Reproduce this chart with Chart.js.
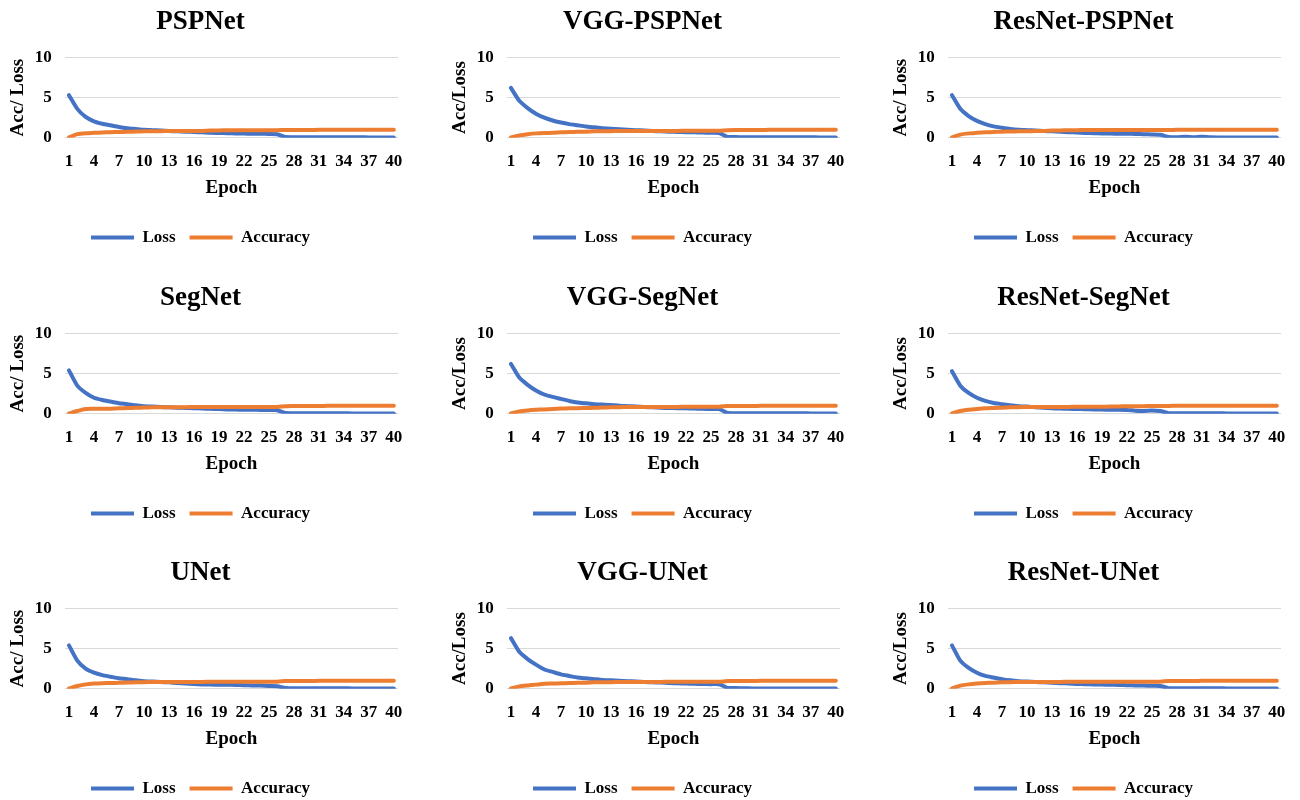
<!DOCTYPE html>
<html>
<head>
<meta charset="utf-8">
<script src="https://cdn.jsdelivr.net/npm/chart.js@4"></script>
<style>
    body { margin: 0; background: #fff; width: 1300px; height: 800px; overflow: hidden; position: relative; }
    canvas { position: absolute; }
</style>
</head>
<body>
<script>
const epochs = [1, 2, 3, 4, 5, 6, 7, 8, 9, 10,
    11, 12, 13, 14, 15, 16, 17, 18, 19, 20,
    21, 22, 23, 24, 25, 26, 27, 28, 29, 30,
    31, 32, 33, 34, 35, 36, 37, 38, 39, 40];

const pspnetLoss = [5.3, 3.6, 2.6, 2.05, 1.75, 1.55, 1.35, 1.2, 1.1, 1.0,
    0.95, 0.9, 0.85, 0.8, 0.76, 0.72, 0.68, 0.62, 0.6, 0.58,
    0.55, 0.52, 0.5, 0.5, 0.48, 0.45, 0.1, 0.08, 0.08, 0.07,
    0.07, 0.07, 0.06, 0.06, 0.06, 0.06, 0.05, 0.05, 0.05, 0.05];
const pspnetAcc = [0.05, 0.45, 0.58, 0.62, 0.66, 0.7, 0.72, 0.75, 0.78, 0.8,
    0.82, 0.83, 0.84, 0.84, 0.85, 0.85, 0.86, 0.9, 0.92, 0.93,
    0.93, 0.94, 0.94, 0.94, 0.95, 0.95, 0.97, 0.98, 0.98, 0.98,
    0.99, 0.99, 0.99, 0.99, 0.99, 0.99, 0.99, 0.99, 0.99, 0.99];

const vggPspnetLoss = [6.2, 4.6, 3.7, 3.0, 2.5, 2.15, 1.9, 1.7, 1.55, 1.4,
    1.3, 1.2, 1.12, 1.05, 1.0, 0.95, 0.9, 0.85, 0.8, 0.76,
    0.72, 0.7, 0.68, 0.65, 0.62, 0.6, 0.12, 0.09, 0.08, 0.08,
    0.07, 0.07, 0.07, 0.06, 0.06, 0.06, 0.06, 0.05, 0.05, 0.05];
const vggPspnetAcc = [0.05, 0.3, 0.45, 0.55, 0.6, 0.62, 0.68, 0.72, 0.74, 0.76,
    0.8, 0.82, 0.83, 0.84, 0.85, 0.85, 0.85, 0.86, 0.86, 0.86,
    0.86, 0.87, 0.87, 0.87, 0.87, 0.88, 0.95, 0.97, 0.98, 0.98,
    0.98, 0.99, 0.99, 0.99, 0.99, 0.99, 0.99, 0.99, 0.99, 0.99];

const resPspnetLoss = [5.3, 3.6, 2.7, 2.1, 1.7, 1.42, 1.25, 1.1, 1.0, 0.95,
    0.9, 0.85, 0.8, 0.75, 0.7, 0.65, 0.6, 0.58, 0.55, 0.52,
    0.5, 0.5, 0.48, 0.45, 0.42, 0.38, 0.1, 0.06, 0.14, 0.06,
    0.12, 0.06, 0.05, 0.05, 0.05, 0.05, 0.05, 0.05, 0.05, 0.05];
const resPspnetAcc = [0.05, 0.4, 0.55, 0.62, 0.68, 0.72, 0.76, 0.78, 0.8, 0.82,
    0.84, 0.86, 0.9, 0.92, 0.94, 0.95, 0.96, 0.96, 0.97, 0.97,
    0.97, 0.97, 0.98, 0.98, 0.98, 0.98, 0.98, 0.99, 0.99, 0.99,
    0.99, 0.99, 0.99, 0.99, 0.99, 0.99, 0.99, 0.99, 0.99, 0.99];

const segnetLoss = [5.4, 3.5, 2.6, 2.0, 1.72, 1.52, 1.32, 1.2, 1.05, 0.95,
    0.9, 0.85, 0.8, 0.76, 0.72, 0.7, 0.65, 0.62, 0.6, 0.55,
    0.52, 0.5, 0.5, 0.48, 0.46, 0.45, 0.1, 0.08, 0.07, 0.07,
    0.06, 0.06, 0.06, 0.06, 0.05, 0.05, 0.05, 0.05, 0.05, 0.05];
const segnetAcc = [0.05, 0.35, 0.6, 0.62, 0.62, 0.64, 0.68, 0.72, 0.74, 0.78,
    0.8, 0.82, 0.82, 0.83, 0.83, 0.84, 0.84, 0.84, 0.84, 0.84,
    0.85, 0.85, 0.85, 0.85, 0.85, 0.86, 0.95, 0.97, 0.98, 0.98,
    0.98, 0.99, 0.99, 0.99, 0.99, 0.99, 0.99, 0.99, 0.99, 0.99];

const vggSegnetLoss = [6.2, 4.5, 3.6, 2.9, 2.4, 2.1, 1.85, 1.6, 1.4, 1.3,
    1.2, 1.15, 1.1, 1.0, 0.95, 0.9, 0.85, 0.8, 0.75, 0.72,
    0.7, 0.68, 0.65, 0.62, 0.6, 0.58, 0.1, 0.08, 0.08, 0.07,
    0.07, 0.07, 0.06, 0.06, 0.06, 0.06, 0.05, 0.05, 0.05, 0.05];
const vggSegnetAcc = [0.05, 0.3, 0.42, 0.5, 0.55, 0.6, 0.65, 0.68, 0.7, 0.72,
    0.75, 0.78, 0.8, 0.82, 0.84, 0.85, 0.85, 0.85, 0.86, 0.86,
    0.86, 0.87, 0.87, 0.87, 0.88, 0.88, 0.97, 0.98, 0.98, 0.98,
    0.99, 0.99, 0.99, 0.99, 0.99, 0.99, 0.99, 0.99, 0.99, 0.99];

const resSegnetLoss = [5.3, 3.5, 2.6, 2.0, 1.6, 1.35, 1.2, 1.05, 0.95, 0.9,
    0.82, 0.75, 0.7, 0.65, 0.62, 0.6, 0.58, 0.55, 0.52, 0.5,
    0.5, 0.48, 0.38, 0.36, 0.4, 0.35, 0.08, 0.07, 0.07, 0.06,
    0.06, 0.06, 0.06, 0.05, 0.05, 0.05, 0.05, 0.05, 0.05, 0.05];
const resSegnetAcc = [0.05, 0.35, 0.5, 0.6, 0.68, 0.72, 0.76, 0.8, 0.82, 0.84,
    0.85, 0.85, 0.86, 0.86, 0.86, 0.87, 0.87, 0.88, 0.88, 0.9,
    0.92, 0.94, 0.95, 0.95, 0.96, 0.96, 0.98, 0.99, 0.99, 0.99,
    0.99, 0.99, 0.99, 0.99, 0.99, 0.99, 0.99, 0.99, 0.99, 0.99];

const unetLoss = [5.4, 3.5, 2.5, 2.0, 1.7, 1.5, 1.3, 1.2, 1.05, 0.95,
    0.9, 0.85, 0.8, 0.72, 0.65, 0.6, 0.55, 0.52, 0.5, 0.5,
    0.48, 0.45, 0.42, 0.4, 0.35, 0.32, 0.1, 0.08, 0.07, 0.07,
    0.06, 0.06, 0.06, 0.06, 0.05, 0.05, 0.05, 0.05, 0.05, 0.05];
const unetAcc = [0.05, 0.35, 0.55, 0.65, 0.7, 0.72, 0.75, 0.78, 0.8, 0.82,
    0.84, 0.85, 0.86, 0.86, 0.86, 0.86, 0.86, 0.87, 0.87, 0.87,
    0.87, 0.87, 0.87, 0.87, 0.88, 0.88, 0.97, 0.98, 0.98, 0.98,
    0.99, 0.99, 0.99, 0.99, 0.99, 0.99, 0.99, 0.99, 0.99, 0.99];

const vggUnetLoss = [6.3, 4.6, 3.7, 3.0, 2.4, 2.1, 1.8, 1.6, 1.4, 1.3,
    1.2, 1.1, 1.05, 1.0, 0.95, 0.9, 0.85, 0.8, 0.78, 0.72,
    0.68, 0.65, 0.62, 0.6, 0.58, 0.56, 0.12, 0.1, 0.06, 0.05,
    0.05, 0.05, 0.05, 0.05, 0.05, 0.05, 0.05, 0.05, 0.05, 0.05];
const vggUnetAcc = [0.05, 0.3, 0.42, 0.52, 0.62, 0.65, 0.68, 0.72, 0.74, 0.76,
    0.8, 0.82, 0.83, 0.84, 0.85, 0.85, 0.86, 0.86, 0.86, 0.87,
    0.87, 0.87, 0.87, 0.88, 0.88, 0.88, 0.96, 0.98, 0.98, 0.98,
    0.99, 0.99, 0.99, 0.99, 0.99, 0.99, 0.99, 0.99, 0.99, 0.99];

const resUnetLoss = [5.4, 3.5, 2.6, 2.0, 1.6, 1.4, 1.2, 1.05, 0.95, 0.9,
    0.85, 0.8, 0.75, 0.7, 0.65, 0.6, 0.58, 0.55, 0.52, 0.5,
    0.48, 0.45, 0.42, 0.4, 0.38, 0.36, 0.08, 0.07, 0.07, 0.06,
    0.06, 0.06, 0.06, 0.05, 0.05, 0.05, 0.05, 0.05, 0.05, 0.05];
const resUnetAcc = [0.05, 0.4, 0.55, 0.65, 0.72, 0.76, 0.8, 0.82, 0.84, 0.85,
    0.86, 0.86, 0.86, 0.86, 0.87, 0.87, 0.87, 0.87, 0.87, 0.87,
    0.88, 0.88, 0.88, 0.88, 0.88, 0.88, 0.97, 0.98, 0.98, 0.98,
    0.99, 0.99, 0.99, 0.99, 0.99, 0.99, 0.99, 0.99, 0.99, 0.99];

const modelNames = ["PSPNet", "VGG-PSPNet", "ResNet-PSPNet",
    "SegNet", "VGG-SegNet", "ResNet-SegNet",
    "UNet", "VGG-UNet", "ResNet-UNet"];
const yTitles = ["Acc/ Loss", "Acc/Loss", "Acc/ Loss",
    "Acc/ Loss", "Acc/Loss", "Acc/Loss",
    "Acc/ Loss", "Acc/Loss", "Acc/Loss"];
const lossSeries = [pspnetLoss, vggPspnetLoss, resPspnetLoss,
    segnetLoss, vggSegnetLoss, resSegnetLoss,
    unetLoss, vggUnetLoss, resUnetLoss];
const accSeries = [pspnetAcc, vggPspnetAcc, resPspnetAcc,
    segnetAcc, vggSegnetAcc, resSegnetAcc,
    unetAcc, vggUnetAcc, resUnetAcc];

const colLeft = [0, 442, 883];
const rowTop = [0, 276, 551];
const serif = "'Liberation Serif', 'Times New Roman', serif";

function plotPanel(i) {
    const canvas = document.createElement("canvas");
    canvas.width = 410;
    canvas.height = 256;
    canvas.style.left = colLeft[i % 3] + "px";
    canvas.style.top = rowTop[Math.floor(i / 3)] + "px";
    document.body.appendChild(canvas);

    return new Chart(canvas, {
        type: "line",
        data: {
            labels: epochs,
            datasets: [{
                label: "Loss",
                data: lossSeries[i],
                borderColor: "#4472C4",
                backgroundColor: "#4472C4",
                borderWidth: 4,
                borderCapStyle: "round",
                pointRadius: 0,
                tension: 0.2,
                order: 1
            }, {
                label: "Accuracy",
                data: accSeries[i],
                borderColor: "#ED7D31",
                backgroundColor: "#ED7D31",
                borderWidth: 4,
                borderCapStyle: "round",
                pointRadius: 0,
                tension: 0.2,
                order: 0
            }]
        },
        options: {
            responsive: false,
            animation: false,
            layout: { padding: { left: 3, right: 12, top: 0, bottom: 0 } },
            plugins: {
                title: {
                    display: true,
                    text: modelNames[i],
                    color: "#000",
                    font: { family: serif, size: 27, weight: "bold" },
                    padding: { top: 6, bottom: 19 }
                },
                legend: {
                    position: "bottom",
                    labels: {
                        usePointStyle: true,
                        pointStyle: "line",
                        pointStyleWidth: 43,
                        padding: 14,
                        color: "#000",
                        font: { family: serif, size: 17, weight: "bold" },
                        sort: (a, b) => a.datasetIndex - b.datasetIndex
                    }
                },
                tooltip: { enabled: false }
            },
            scales: {
                x: {
                    offset: true,
                    // grid hidden; tickLength only sets the gap above the labels
                    grid: { display: false, tickLength: 13 },
                    border: { display: false },
                    ticks: {
                        autoSkip: false,
                        maxRotation: 0,
                        padding: 1,
                        color: "#000",
                        font: { family: serif, size: 17, weight: "bold" },
                        callback: function (val, idx) {
                            return idx % 3 === 0 ? this.getLabelForValue(val) : "";
                        }
                    },
                    title: {
                        display: true,
                        text: "Epoch",
                        color: "#000",
                        font: { family: serif, size: 19, weight: "bold" },
                        padding: { top: 3, bottom: 16 }
                    }
                },
                y: {
                    min: 0,
                    max: 10,
                    grid: { color: "#d9d9d9", lineWidth: 1, tickLength: 12, tickColor: "rgba(0,0,0,0)" },
                    border: { display: false },
                    ticks: {
                        stepSize: 5,
                        padding: 1,
                        color: "#000",
                        font: { family: serif, size: 17, weight: "bold" }
                    },
                    title: {
                        display: true,
                        text: yTitles[i],
                        color: "#000",
                        font: { family: serif, size: 19, weight: "bold" },
                        padding: { top: 4, bottom: 4 }
                    }
                }
            }
        }
    });
}

for (let i = 0; i < modelNames.length; i++) {
    plotPanel(i);
}
</script>
</body>
</html>
